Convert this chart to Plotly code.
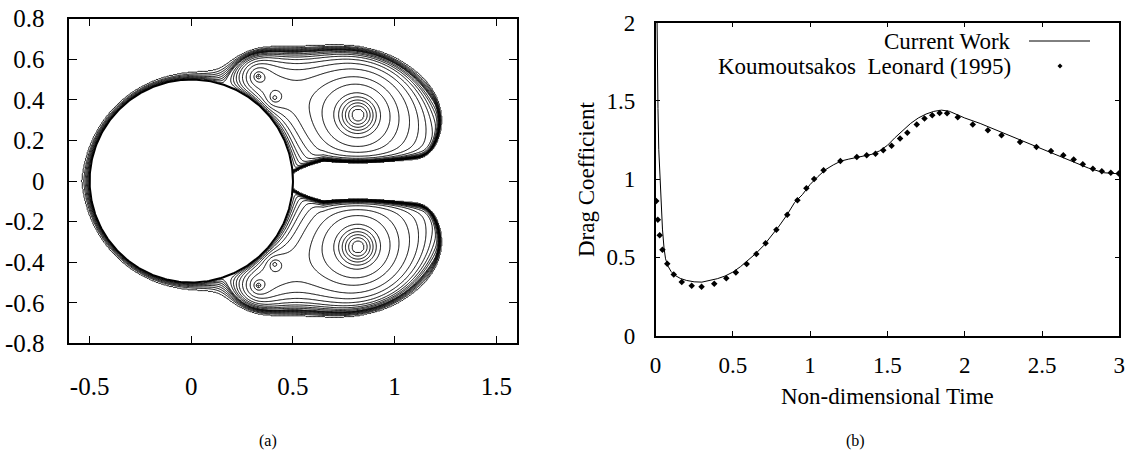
import numpy as np
import plotly.graph_objects as go

# ---------------- data: panel (a) flow model ----------------
cyl_radius = 0.5
free_stream = 1.0
vortex_x = [0.82, 0.33, 0.41]
vortex_y = [0.325, 0.515, 0.41]
vortex_gamma = [-2.75, -0.80, -0.65]       # counter-clockwise positive (upper half)
front_layer_gain = 1.2
ridge_gain = 1.0
rear_gain = 8.0
bubble_semi_axes = [0.38, 0.32]
contour_levels = [-1.10, -0.925, -0.80, -0.705, -0.62, -0.53, -0.375, -0.272,
                  -0.18, -0.12, -0.08, -0.052, -0.034, -0.02, -0.01,
                  0.002, 0.005, 0.009, 0.014, 0.02, 0.027, 0.035, 0.044]

a_xticks = [-0.5, 0, 0.5, 1, 1.5]
a_xtext = ["-0.5", "0", "0.5", "1", "1.5"]
a_yticks = [-0.8, -0.6, -0.4, -0.2, 0, 0.2, 0.4, 0.6, 0.8]
a_ytext = ["-0.8", "-0.6", "-0.4", "-0.2", "0", "0.2", "0.4", "0.6", "0.8"]

# ---------------- data: panel (b) drag coefficient ----------------
cw_t = [0.004, 0.008, 0.012, 0.016, 0.021, 0.026, 0.03, 0.037, 0.045, 0.055, 0.065,
        0.08, 0.1, 0.125, 0.16, 0.2, 0.25, 0.3, 0.35, 0.4, 0.45, 0.5, 0.55, 0.6,
        0.65, 0.7, 0.75, 0.8, 0.85, 0.9, 0.95, 1.0, 1.05, 1.1, 1.15, 1.2, 1.25,
        1.3, 1.35, 1.4, 1.45, 1.5, 1.55, 1.6, 1.65, 1.7, 1.75, 1.8, 1.85, 1.9,
        1.95, 2.0, 2.1, 2.2, 2.3, 2.4, 2.5, 2.6, 2.7, 2.8, 2.9, 3.0]
cw_cd = [2.6, 2.0, 1.7, 1.45, 1.19, 1.07, 0.98, 0.82, 0.68, 0.56, 0.49,
         0.445, 0.41, 0.385, 0.365, 0.352, 0.343, 0.341, 0.35, 0.363, 0.38, 0.405,
         0.44, 0.48, 0.525, 0.575, 0.635, 0.70, 0.77, 0.85, 0.90, 0.965, 1.015,
         1.06, 1.09, 1.115, 1.127, 1.136, 1.145, 1.158, 1.18, 1.215, 1.265, 1.31,
         1.355, 1.39, 1.415, 1.432, 1.44, 1.433, 1.41, 1.39, 1.355, 1.315, 1.27,
         1.23, 1.19, 1.15, 1.11, 1.07, 1.04, 1.033]
kl_t = [0.005, 0.015, 0.027, 0.045, 0.076, 0.118, 0.17, 0.234, 0.298, 0.38, 0.458,
        0.52, 0.59, 0.652, 0.712, 0.782, 0.852, 0.918, 0.976, 1.026, 1.087, 1.196,
        1.302, 1.366, 1.423, 1.473, 1.527, 1.582, 1.629, 1.69, 1.74, 1.79, 1.838,
        1.886, 1.955, 2.052, 2.15, 2.238, 2.358, 2.464, 2.558, 2.638, 2.705, 2.764,
        2.829, 2.887, 2.945, 2.996]
kl_cd = [0.86, 0.74, 0.64, 0.548, 0.458, 0.39, 0.342, 0.318, 0.311, 0.33, 0.366,
         0.403, 0.457, 0.52, 0.589, 0.676, 0.772, 0.864, 0.941, 1.0, 1.056, 1.115,
         1.14, 1.152, 1.162, 1.183, 1.213, 1.258, 1.296, 1.348, 1.386, 1.408, 1.422,
         1.42, 1.395, 1.348, 1.312, 1.28, 1.236, 1.204, 1.179, 1.151, 1.124, 1.094,
         1.066, 1.05, 1.04, 1.035]
b_xticks = [0, 0.5, 1, 1.5, 2, 2.5, 3]
b_xtext = ["0", "0.5", "1", "1.5", "2", "2.5", "3"]
b_yticks = [0, 0.5, 1, 1.5, 2]
b_ytext = ["0", "0.5", "1", "1.5", "2"]

# ---------------- stream-function field for panel (a) ----------------
xs = np.linspace(-0.6, 1.6, 551)
ys = np.linspace(-0.8, 0.8, 401)
X, Y = np.meshgrid(xs, ys)
Z = X + 1j * np.abs(Y)
R = np.abs(Z)
with np.errstate(divide="ignore", invalid="ignore"):
    psi = free_stream * Z.imag * (1 - cyl_radius ** 2 / R ** 2)
    for xv, yv, g in zip(vortex_x, vortex_y, vortex_gamma):
        for zk, gk in ((xv + 1j * yv, g), (xv - 1j * yv, -g)):
            zi = cyl_radius ** 2 / np.conj(zk)
            psi += -gk / (2 * np.pi) * (np.log(np.abs(Z - zk)) - np.log(np.abs(Z - zi)))
    n = R - cyl_radius
    psi += front_layer_gain * n * np.clip(-X / R, 0, 1) ** 1.5
    sig = 0.025 + 0.05 * np.clip((X - 0.5) / 0.15, 0, 1)
    psi += ridge_gain * np.clip((X - 0.46) / 0.08, 0, 1) * np.exp(-(Y / sig) ** 2)
    D = np.sqrt(((X - vortex_x[0]) / bubble_semi_axes[0]) ** 2 +
                ((np.abs(Y) - vortex_y[0]) / bubble_semi_axes[1]) ** 2)
    psi += (rear_gain * np.clip(D - 1.0, 0, None) ** 2
            * np.clip((X - vortex_x[0]) / 0.15, 0, 1))
lv = np.array([-1e4] + contour_levels + [1e4])
field = np.interp(psi, lv, np.arange(len(lv), dtype=float))
field[R < cyl_radius] = np.nan
field[~np.isfinite(psi)] = np.nan

theta = np.linspace(0, 2 * np.pi, 361)
circ_x = cyl_radius * np.cos(theta)
circ_y = cyl_radius * np.sin(theta)

fig = go.Figure()
fig.add_trace(go.Contour(
    x=xs, y=ys, z=field, xaxis="x", yaxis="y",
    contours=dict(coloring="lines", start=1, end=len(contour_levels), size=1),
    colorscale=[[0, "black"], [1, "black"]], showscale=False,
    line=dict(width=1, smoothing=1), hoverinfo="skip", showlegend=False))
fig.add_trace(go.Scatter(x=circ_x, y=circ_y, mode="lines", xaxis="x", yaxis="y",
                         line=dict(color="black", width=2), hoverinfo="skip",
                         showlegend=False))

fig.add_trace(go.Scatter(x=cw_t, y=cw_cd, mode="lines", name="Current Work",
                         xaxis="x2", yaxis="y2", line=dict(color="black", width=1),
                         showlegend=False))
fig.add_trace(go.Scatter(x=kl_t, y=kl_cd, mode="markers",
                         name="Koumoutsakos  Leonard (1995)", xaxis="x2", yaxis="y2",
                         marker=dict(symbol="diamond", size=5, color="black"),
                         showlegend=False))

W, H = 1135, 465


def px(x):
    return x / W


def py(y):
    return 1 - y / H


serif = "Liberation Serif, Times New Roman, serif"
axcommon = dict(showline=True, mirror="ticks", linecolor="black", linewidth=1.5,
                ticks="inside", tickcolor="black", showgrid=False, zeroline=False,
                tickmode="array", automargin=False, ticklabeloverflow="allow")

fig.update_layout(
    width=W, height=H,
    margin=dict(l=0, r=0, t=0, b=0, pad=0, autoexpand=False),
    paper_bgcolor="white", plot_bgcolor="white", showlegend=False,
    font=dict(family=serif, color="black"),
    xaxis=dict(axcommon, domain=[px(69.3), px(516.6)], range=[-0.6, 1.6],
               tickvals=a_xticks, ticktext=a_xtext, ticklen=8, tickwidth=1.2,
               tickfont=dict(size=25), ticklabelstandoff=20, anchor="y"),
    yaxis=dict(axcommon, domain=[py(343.4), py(18.6)], range=[-0.8, 0.8],
               tickvals=a_yticks, ticktext=a_ytext, ticklen=8, tickwidth=1.2,
               tickfont=dict(size=25), ticklabelstandoff=18, anchor="x"),
    xaxis2=dict(axcommon, domain=[px(655.5), px(1119.3)], range=[0, 3],
                tickvals=b_xticks, ticktext=b_xtext, ticklen=5, tickwidth=1,
                tickfont=dict(size=23), ticklabelstandoff=8, anchor="y2"),
    yaxis2=dict(axcommon, domain=[py(335.5), py(22.5)], range=[0, 2],
                tickvals=b_yticks, ticktext=b_ytext, ticklen=5, tickwidth=1,
                tickfont=dict(size=23), ticklabelstandoff=14, anchor="x2"),
)

ann = [
    dict(text="Drag Coefficient", x=586, y=180, textangle=-90, size=23),
    dict(text="Non-dimensional Time", x=887, y=396, textangle=0, size=23),
    dict(text="(a)", x=268, y=441, textangle=0, size=16),
    dict(text="(b)", x=855, y=441, textangle=0, size=16),
]
for a_ in ann:
    fig.add_annotation(text=a_["text"], x=px(a_["x"]), y=py(a_["y"]),
                       xref="paper", yref="paper", showarrow=False,
                       textangle=a_["textangle"], font=dict(size=a_["size"], family=serif),
                       xanchor="center", yanchor="middle")
# legend (gnuplot style: text right-aligned, sample on the right)
fig.add_annotation(text="Current Work", x=px(1013), y=py(41.5), xref="paper",
                   yref="paper", showarrow=False, xanchor="right", yanchor="middle",
                   font=dict(size=23, family=serif))
fig.add_annotation(text="Koumoutsakos\u00a0 Leonard (1995)", x=px(1013),
                   y=py(66), xref="paper", yref="paper", showarrow=False,
                   xanchor="right", yanchor="middle", font=dict(size=23, family=serif))
fig.add_shape(type="line", xref="paper", yref="paper", x0=px(1029), x1=px(1090),
              y0=py(41), y1=py(41), line=dict(color="black", width=1))
fig.add_shape(type="path", xref="paper", yref="paper",
              path="M %f %f L %f %f L %f %f L %f %f Z" % (
                  px(1057.5), py(66), px(1060), py(63.5),
                  px(1062.5), py(66), px(1060), py(68.5)),
              fillcolor="black", line=dict(color="black", width=0))

# the page body gets no default margin so the figure sits at the window origin
fig.write_html("out.html", config={"displayModeBar": False},
               post_script="document.body.style.margin='0px';")
